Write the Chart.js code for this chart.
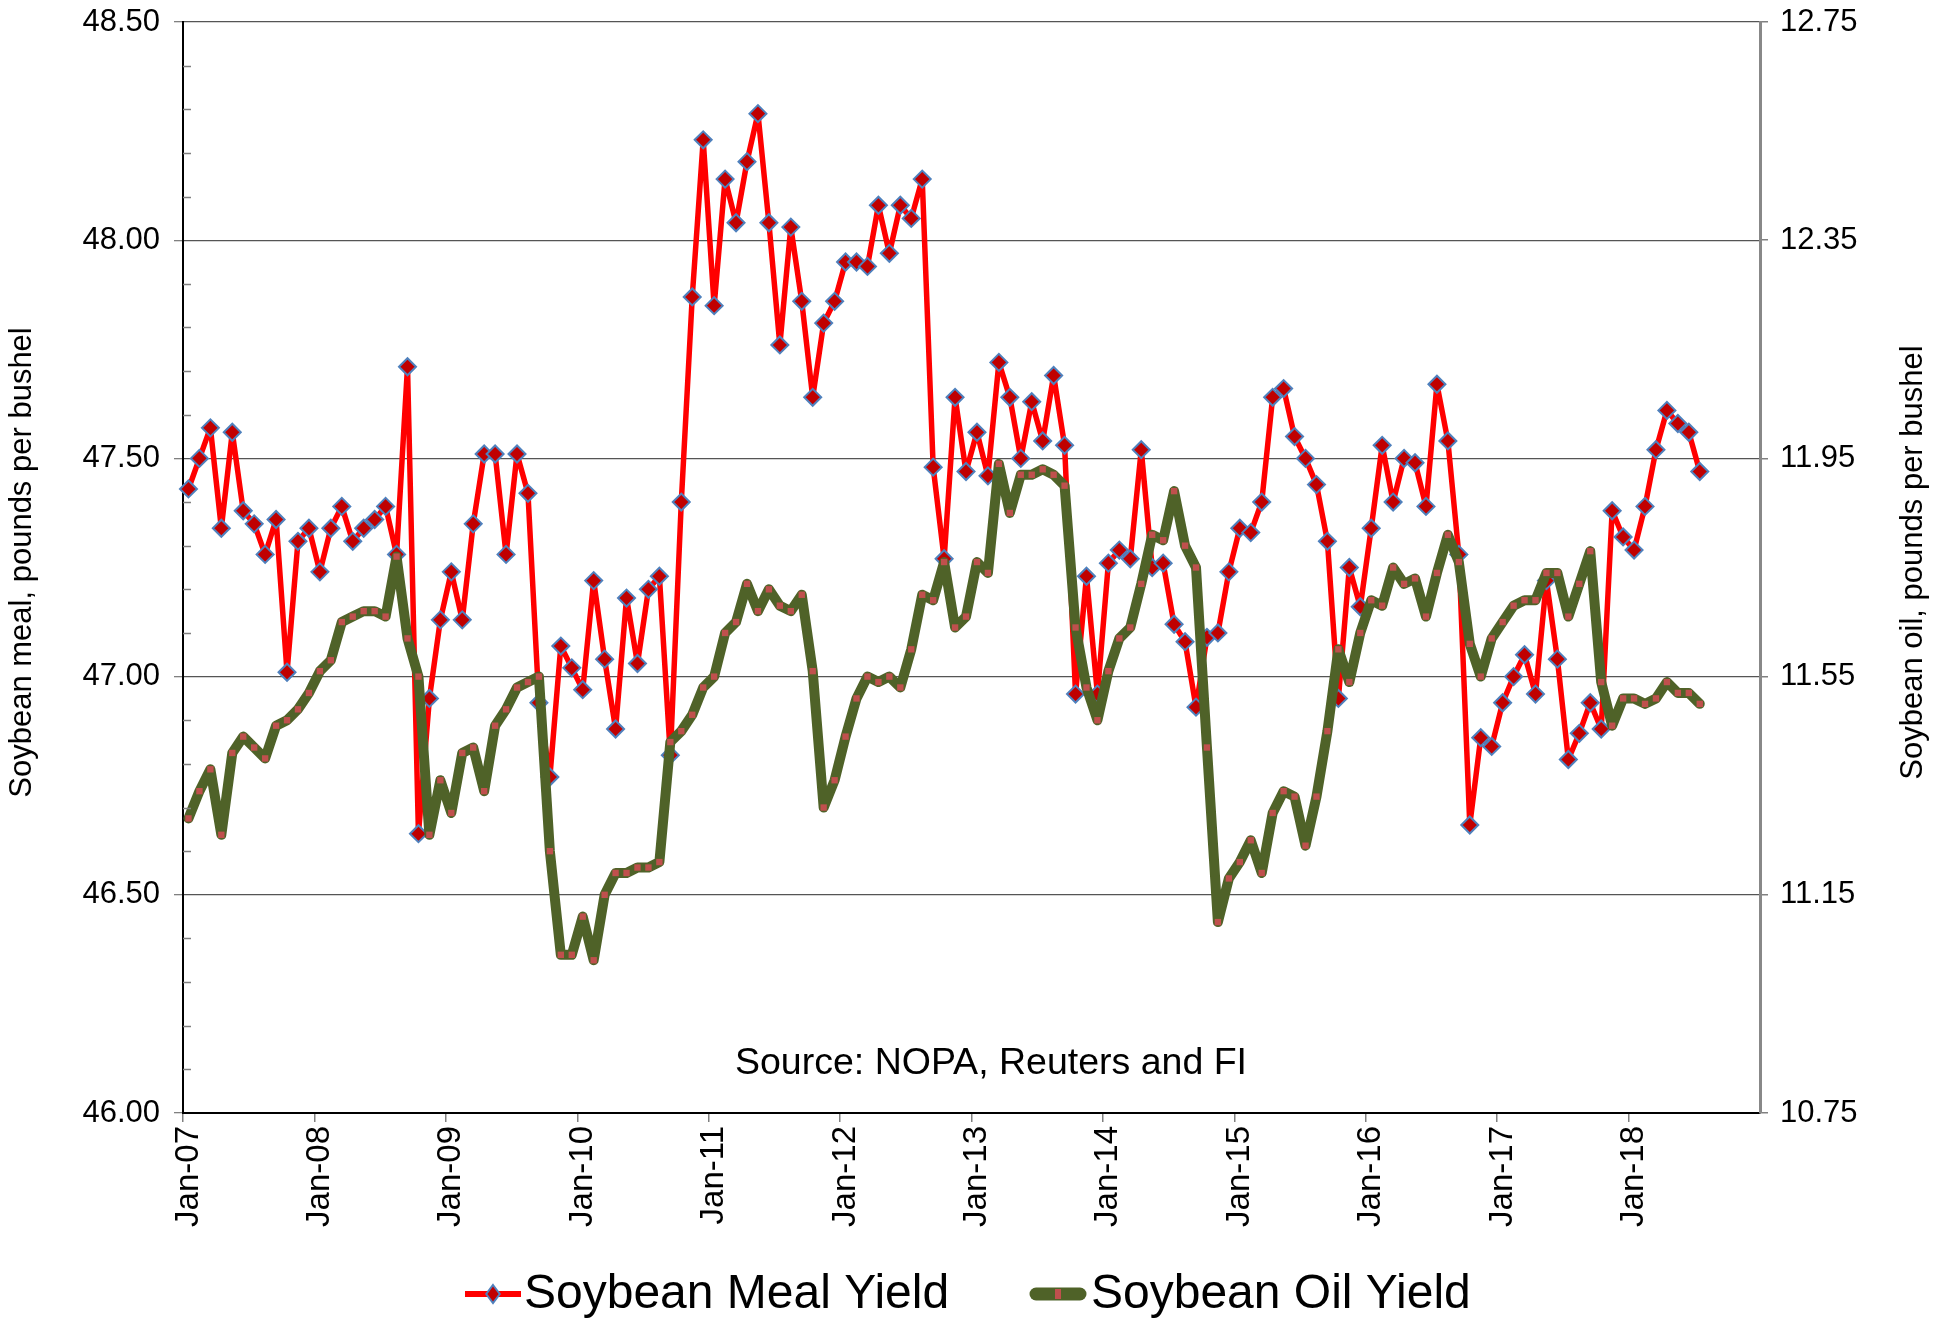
<!DOCTYPE html>
<html>
<head>
<meta charset="utf-8">
<script src="https://cdn.jsdelivr.net/npm/chart.js@4.4.1/dist/chart.umd.min.js"></script>
<style>
html,body{margin:0;padding:0;background:#ffffff;}
#wrap{width:1954px;height:1321px;position:relative;}
</style>
</head>
<body>
<div id="wrap"><canvas id="c" width="1954" height="1321"></canvas></div>
<script>
// ---- data ----
const years = ['07','08','09','10','11','12','13','14','15','16','17','18'];
const monthNames = ['Jan','Feb','Mar','Apr','May','Jun','Jul','Aug','Sep','Oct','Nov','Dec'];
const categories = [];
years.forEach(y => monthNames.forEach(m => categories.push(m + '-' + y)));

const mealYield = [
  47.43,47.50,47.57,47.34,47.56,47.38,47.35,47.28,47.36,47.01,47.31,47.34,
  47.24,47.34,47.39,47.31,47.34,47.36,47.39,47.28,47.71,46.64,46.95,47.13,
  47.24,47.13,47.35,47.51,47.51,47.28,47.51,47.42,46.94,46.77,47.07,47.02,
  46.97,47.22,47.04,46.88,47.18,47.03,47.20,47.23,46.82,47.40,47.87,48.23,
  47.85,48.14,48.04,48.18,48.29,48.04,47.76,48.03,47.86,47.64,47.81,47.86,
  47.95,47.95,47.94,48.08,47.97,48.08,48.05,48.14,47.48,47.27,47.64,47.47,
  47.56,47.46,47.72,47.64,47.50,47.63,47.54,47.69,47.53,46.96,47.23,46.96,
  47.26,47.29,47.27,47.52,47.25,47.26,47.12,47.08,46.93,47.09,47.10,47.24,
  47.34,47.33,47.40,47.64,47.66,47.55,47.50,47.44,47.31,46.95,47.25,47.16,
  47.34,47.53,47.40,47.50,47.49,47.39,47.67,47.54,47.28,46.66,46.86,46.84,
  46.94,47.00,47.05,46.96,47.22,47.04,46.81,46.87,46.94,46.88,47.38,47.32,
  47.29,47.39,47.52,47.61,47.58,47.56,47.47
];

const oilYield = [
  11.29,11.34,11.38,11.26,11.41,11.44,11.42,11.40,11.46,11.47,11.49,11.52,
  11.56,11.58,11.65,11.66,11.67,11.67,11.66,11.77,11.62,11.55,11.26,11.36,
  11.30,11.41,11.42,11.34,11.46,11.49,11.53,11.54,11.55,11.23,11.04,11.04,
  11.11,11.03,11.15,11.19,11.19,11.20,11.20,11.21,11.43,11.45,11.48,11.53,
  11.55,11.63,11.65,11.72,11.67,11.71,11.68,11.67,11.70,11.56,11.31,11.36,
  11.44,11.51,11.55,11.54,11.55,11.53,11.60,11.70,11.69,11.76,11.64,11.66,
  11.76,11.74,11.94,11.85,11.92,11.92,11.93,11.92,11.90,11.64,11.53,11.47,
  11.56,11.62,11.64,11.72,11.81,11.80,11.89,11.79,11.75,11.42,11.10,11.18,
  11.21,11.25,11.19,11.30,11.34,11.33,11.24,11.33,11.45,11.60,11.54,11.63,
  11.69,11.68,11.75,11.72,11.73,11.66,11.74,11.81,11.76,11.61,11.55,11.62,
  11.65,11.68,11.69,11.69,11.74,11.74,11.66,11.72,11.78,11.54,11.46,11.51,
  11.51,11.50,11.51,11.54,11.52,11.52,11.50
];

const leftRange = [46.00, 48.50];
const leftStep = 0.5;
const leftMinorStep = 0.1;
const rightRange = [10.75, 12.75];
const rightStep = 0.4;

const seriesNames = ['Soybean Meal Yield', 'Soybean Oil Yield'];
const leftTitle = 'Soybean meal, pounds per bushel';
const rightTitle = 'Soybean oil, pounds per bushel';
const sourceNote = 'Source: NOPA, Reuters and FI';

// ---- styles ----
const FONT = "'Liberation Sans', Arial, sans-serif";
const RED = '#FF0000';
const DIAMOND_FILL = '#C00000';
const DIAMOND_EDGE = '#4F81BD';
const OLIVE = '#4F6228';
const SQUARE_FILL = '#C0504D';

Chart.defaults.font.family = FONT;

const decorPlugin = {
  id: 'decor',
  afterDraw(chart) {
    const ctx = chart.ctx;
    const y = chart.scales.y;
    const area = chart.chartArea;
    ctx.save();
    // minor ticks on left axis (inside)
    ctx.strokeStyle = '#808080';
    ctx.lineWidth = 1.5;
    const nMinor = Math.round((leftRange[1] - leftRange[0]) / leftMinorStep);
    for (let k = 1; k < nMinor; k++) {
      if (k % 5 === 0) continue;
      const v = leftRange[0] + k * leftMinorStep;
      const py = Math.round(y.getPixelForValue(v)) + 0.5;
      ctx.beginPath();
      ctx.moveTo(area.left, py);
      ctx.lineTo(area.left + 8, py);
      ctx.stroke();
    }
    // axis titles
    ctx.fillStyle = '#000';
    ctx.font = '31px ' + FONT;
    ctx.textAlign = 'center';
    ctx.textBaseline = 'middle';
    const midY = (area.top + area.bottom) / 2 - 5;
    ctx.save();
    ctx.translate(22, midY);
    ctx.rotate(-Math.PI / 2);
    ctx.fillText(leftTitle, 0, 0);
    ctx.restore();
    ctx.save();
    ctx.translate(1913, midY);
    ctx.rotate(-Math.PI / 2);
    ctx.fillText(rightTitle, 0, 0);
    ctx.restore();
    // source note
    ctx.font = '37.5px ' + FONT;
    ctx.fillText(sourceNote, 991, 1064);
    // legend
    const ly = 1294;
    // meal
    ctx.strokeStyle = RED;
    ctx.lineWidth = 6;
    ctx.lineCap = 'butt';
    ctx.beginPath();
    ctx.moveTo(465, ly);
    ctx.lineTo(521, ly);
    ctx.stroke();
    ctx.beginPath();
    const dx = 493, r = 9;
    ctx.moveTo(dx, ly - r); ctx.lineTo(dx + r * 0.75, ly); ctx.lineTo(dx, ly + r); ctx.lineTo(dx - r * 0.75, ly); ctx.closePath();
    ctx.fillStyle = DIAMOND_FILL; ctx.fill();
    ctx.strokeStyle = DIAMOND_EDGE; ctx.lineWidth = 2; ctx.stroke();
    // oil
    ctx.strokeStyle = OLIVE;
    ctx.lineWidth = 13;
    ctx.lineCap = 'round';
    ctx.beginPath();
    ctx.moveTo(1036, ly);
    ctx.lineTo(1080, ly);
    ctx.stroke();
    ctx.fillStyle = SQUARE_FILL;
    ctx.fillRect(1055, ly - 5, 6, 10);
    // legend text
    ctx.fillStyle = '#000';
    ctx.font = '48px ' + FONT;
    ctx.textAlign = 'left';
    ctx.fillText(seriesNames[0], 524, ly + 1);
    ctx.fillText(seriesNames[1], 1091, ly + 1);
    ctx.restore();
  }
};

new Chart(document.getElementById('c'), {
  type: 'line',
  data: {
    labels: categories,
    datasets: [
      {
        label: seriesNames[0],
        data: mealYield,
        yAxisID: 'y',
        order: 1,
        borderColor: RED,
        borderWidth: 5.5,
        borderJoinStyle: 'round',
        borderCapStyle: 'round',
        tension: 0,
        fill: false,
        pointStyle: 'rectRot',
        pointRadius: 8.5,
        pointBackgroundColor: DIAMOND_FILL,
        pointBorderColor: DIAMOND_EDGE,
        pointBorderWidth: 2
      },
      {
        label: seriesNames[1],
        data: oilYield,
        yAxisID: 'y1',
        order: 0,
        borderColor: OLIVE,
        borderWidth: 10,
        borderJoinStyle: 'round',
        borderCapStyle: 'round',
        tension: 0,
        fill: false,
        pointStyle: 'rect',
        pointRadius: 4.5,
        pointBackgroundColor: SQUARE_FILL,
        pointBorderColor: SQUARE_FILL,
        pointBorderWidth: 0
      }
    ]
  },
  options: {
    responsive: false,
    animation: false,
    events: [],
    layout: { padding: { top: 22, left: 0, right: 0, bottom: 0 } },
    plugins: { legend: { display: false }, tooltip: { enabled: false } },
    scales: {
      x: {
        type: 'category',
        offset: true,
        grid: {
          offset: true,
          drawOnChartArea: false,
          drawTicks: true,
          tickLength: 9,
          lineWidth: 1.5,
          tickColor: (c) => (c.index % 12 === 0 ? '#808080' : 'rgba(0,0,0,0)')
        },
        border: { color: '#000000', width: 2 },
        ticks: {
          autoSkip: false,
          maxRotation: 90,
          minRotation: 90,
          padding: 4,
          color: '#000',
          font: { size: 33, family: FONT },
          callback: (v, i) => (i % 12 === 0 ? categories[i] : '')
        },
        afterFit: (s) => { s.height = 208; s.paddingLeft = 0; s.paddingRight = 0; }
      },
      y: {
        position: 'left',
        min: leftRange[0],
        max: leftRange[1],
        ticks: {
          stepSize: leftStep,
          padding: 14,
          color: '#000',
          font: { size: 31, family: FONT },
          callback: (v) => Number(v).toFixed(2)
        },
        grid: { color: '#555555', lineWidth: 1.3, tickLength: 9, tickColor: '#808080' },
        border: { color: '#000000', width: 2 },
        afterFit: (s) => { s.width = 183; s.paddingTop = 0; s.paddingBottom = 0; }
      },
      y1: {
        position: 'right',
        min: rightRange[0],
        max: rightRange[1],
        ticks: {
          stepSize: rightStep,
          padding: 12,
          color: '#000',
          font: { size: 31, family: FONT },
          callback: (v) => Number(v).toFixed(2)
        },
        grid: { drawOnChartArea: false, tickLength: 8, tickColor: '#808080', lineWidth: 1.5 },
        border: { color: '#888888', width: 3 },
        afterFit: (s) => { s.width = 194; s.paddingTop = 0; s.paddingBottom = 0; }
      }
    }
  },
  plugins: [decorPlugin]
});
</script>
</body>
</html>
